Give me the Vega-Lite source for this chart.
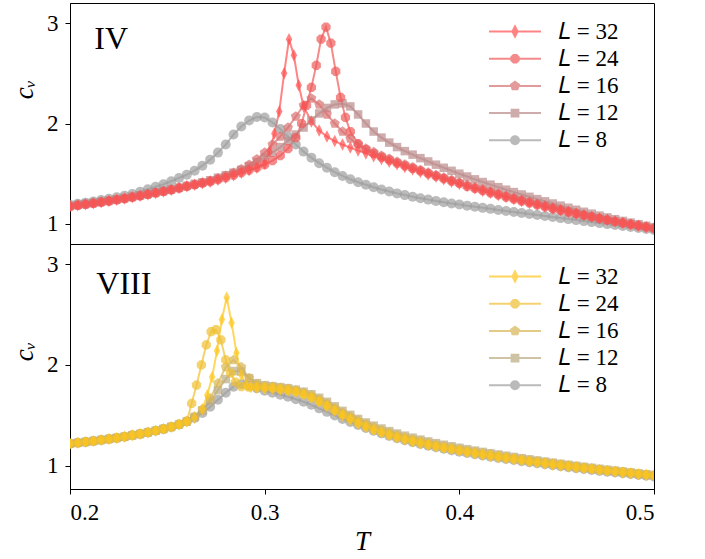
{
"$schema":"https://vega.github.io/schema/vega-lite/v6.json",
"padding":{"left":9,"top":2,"right":5,"bottom":5},
"background":"white",
"spacing":0,
"bounds":"flush",
"config":{
 "font":"Liberation Serif",
 "view":{"stroke":"black","strokeWidth":1},
 "axis":{"grid":false,"domainColor":"black","domainWidth":1,"tickColor":"black","tickSize":5,"labelColor":"black","titleColor":"black","labelFont":"Liberation Serif","titleFont":"Liberation Serif","labelFontSize":23,"titleFontSize":27,"titleFontWeight":"normal","labelPadding":7}
},
"datasets":{
"top":[
{"L":"8","T":0.2,"c":1.19},{"L":"8","T":0.204,"c":1.2},{"L":"8","T":0.208,"c":1.212},{"L":"8","T":0.212,"c":1.224},{"L":"8","T":0.216,"c":1.237},{"L":"8","T":0.22,"c":1.25},{"L":"8","T":0.224,"c":1.265},{"L":"8","T":0.228,"c":1.28},{"L":"8","T":0.232,"c":1.297},{"L":"8","T":0.236,"c":1.32},{"L":"8","T":0.24,"c":1.345},{"L":"8","T":0.244,"c":1.37},{"L":"8","T":0.248,"c":1.395},{"L":"8","T":0.252,"c":1.425},{"L":"8","T":0.256,"c":1.457},{"L":"8","T":0.26,"c":1.49},{"L":"8","T":0.264,"c":1.53},{"L":"8","T":0.268,"c":1.58},{"L":"8","T":0.272,"c":1.64},{"L":"8","T":0.276,"c":1.71},{"L":"8","T":0.28,"c":1.79},{"L":"8","T":0.284,"c":1.89},{"L":"8","T":0.288,"c":1.97},{"L":"8","T":0.292,"c":2.03},{"L":"8","T":0.296,"c":2.065},{"L":"8","T":0.3,"c":2.06},{"L":"8","T":0.304,"c":2.01},{"L":"8","T":0.308,"c":1.945},{"L":"8","T":0.312,"c":1.87},{"L":"8","T":0.316,"c":1.79},{"L":"8","T":0.32,"c":1.72},{"L":"8","T":0.324,"c":1.66},{"L":"8","T":0.328,"c":1.605},{"L":"8","T":0.332,"c":1.56},{"L":"8","T":0.336,"c":1.515},{"L":"8","T":0.34,"c":1.478},{"L":"8","T":0.344,"c":1.445},{"L":"8","T":0.348,"c":1.415},{"L":"8","T":0.352,"c":1.39},{"L":"8","T":0.356,"c":1.365},{"L":"8","T":0.36,"c":1.343},{"L":"8","T":0.364,"c":1.323},{"L":"8","T":0.368,"c":1.304},{"L":"8","T":0.372,"c":1.287},{"L":"8","T":0.376,"c":1.271},{"L":"8","T":0.38,"c":1.256},{"L":"8","T":0.384,"c":1.242},{"L":"8","T":0.388,"c":1.229},{"L":"8","T":0.392,"c":1.216},{"L":"8","T":0.396,"c":1.204},{"L":"8","T":0.4,"c":1.193},{"L":"8","T":0.404,"c":1.182},{"L":"8","T":0.408,"c":1.171},{"L":"8","T":0.412,"c":1.16},{"L":"8","T":0.416,"c":1.15},{"L":"8","T":0.42,"c":1.139},{"L":"8","T":0.424,"c":1.129},{"L":"8","T":0.428,"c":1.118},{"L":"8","T":0.432,"c":1.108},{"L":"8","T":0.436,"c":1.098},{"L":"8","T":0.44,"c":1.088},{"L":"8","T":0.444,"c":1.078},{"L":"8","T":0.448,"c":1.068},{"L":"8","T":0.452,"c":1.058},{"L":"8","T":0.456,"c":1.048},{"L":"8","T":0.46,"c":1.038},{"L":"8","T":0.464,"c":1.028},{"L":"8","T":0.468,"c":1.018},{"L":"8","T":0.472,"c":1.008},{"L":"8","T":0.476,"c":0.998},{"L":"8","T":0.48,"c":0.989},{"L":"8","T":0.484,"c":0.979},{"L":"8","T":0.488,"c":0.969},{"L":"8","T":0.492,"c":0.96},{"L":"8","T":0.496,"c":0.95},{"L":"8","T":0.5,"c":0.94},
{"L":"12","T":0.2,"c":1.18},{"L":"12","T":0.204,"c":1.19},{"L":"12","T":0.208,"c":1.2},{"L":"12","T":0.212,"c":1.21},{"L":"12","T":0.216,"c":1.221},{"L":"12","T":0.22,"c":1.233},{"L":"12","T":0.224,"c":1.245},{"L":"12","T":0.228,"c":1.258},{"L":"12","T":0.232,"c":1.271},{"L":"12","T":0.236,"c":1.285},{"L":"12","T":0.24,"c":1.299},{"L":"12","T":0.244,"c":1.314},{"L":"12","T":0.248,"c":1.329},{"L":"12","T":0.252,"c":1.345},{"L":"12","T":0.256,"c":1.362},{"L":"12","T":0.26,"c":1.38},{"L":"12","T":0.264,"c":1.4},{"L":"12","T":0.268,"c":1.415},{"L":"12","T":0.272,"c":1.435},{"L":"12","T":0.276,"c":1.46},{"L":"12","T":0.28,"c":1.485},{"L":"12","T":0.284,"c":1.51},{"L":"12","T":0.288,"c":1.54},{"L":"12","T":0.292,"c":1.575},{"L":"12","T":0.296,"c":1.615},{"L":"12","T":0.3,"c":1.66},{"L":"12","T":0.304,"c":1.71},{"L":"12","T":0.308,"c":1.765},{"L":"12","T":0.312,"c":1.825},{"L":"12","T":0.316,"c":1.89},{"L":"12","T":0.32,"c":1.96},{"L":"12","T":0.324,"c":2.03},{"L":"12","T":0.328,"c":2.1},{"L":"12","T":0.332,"c":2.155},{"L":"12","T":0.336,"c":2.19},{"L":"12","T":0.34,"c":2.2},{"L":"12","T":0.344,"c":2.17},{"L":"12","T":0.348,"c":2.09},{"L":"12","T":0.352,"c":2.0},{"L":"12","T":0.356,"c":1.92},{"L":"12","T":0.36,"c":1.86},{"L":"12","T":0.364,"c":1.81},{"L":"12","T":0.368,"c":1.765},{"L":"12","T":0.372,"c":1.725},{"L":"12","T":0.376,"c":1.69},{"L":"12","T":0.38,"c":1.655},{"L":"12","T":0.384,"c":1.622},{"L":"12","T":0.388,"c":1.59},{"L":"12","T":0.392,"c":1.559},{"L":"12","T":0.396,"c":1.529},{"L":"12","T":0.4,"c":1.5},{"L":"12","T":0.404,"c":1.472},{"L":"12","T":0.408,"c":1.444},{"L":"12","T":0.412,"c":1.417},{"L":"12","T":0.416,"c":1.391},{"L":"12","T":0.42,"c":1.366},{"L":"12","T":0.424,"c":1.341},{"L":"12","T":0.428,"c":1.317},{"L":"12","T":0.432,"c":1.293},{"L":"12","T":0.436,"c":1.27},{"L":"12","T":0.44,"c":1.247},{"L":"12","T":0.444,"c":1.225},{"L":"12","T":0.448,"c":1.203},{"L":"12","T":0.452,"c":1.182},{"L":"12","T":0.456,"c":1.161},{"L":"12","T":0.46,"c":1.141},{"L":"12","T":0.464,"c":1.121},{"L":"12","T":0.468,"c":1.102},{"L":"12","T":0.472,"c":1.083},{"L":"12","T":0.476,"c":1.065},{"L":"12","T":0.48,"c":1.047},{"L":"12","T":0.484,"c":1.03},{"L":"12","T":0.488,"c":1.013},{"L":"12","T":0.492,"c":0.997},{"L":"12","T":0.496,"c":0.981},{"L":"12","T":0.5,"c":0.966},
{"L":"16","T":0.2,"c":1.175},{"L":"16","T":0.204,"c":1.185},{"L":"16","T":0.208,"c":1.195},{"L":"16","T":0.212,"c":1.205},{"L":"16","T":0.216,"c":1.216},{"L":"16","T":0.22,"c":1.228},{"L":"16","T":0.224,"c":1.24},{"L":"16","T":0.228,"c":1.253},{"L":"16","T":0.232,"c":1.266},{"L":"16","T":0.236,"c":1.28},{"L":"16","T":0.24,"c":1.294},{"L":"16","T":0.244,"c":1.309},{"L":"16","T":0.248,"c":1.324},{"L":"16","T":0.252,"c":1.34},{"L":"16","T":0.256,"c":1.357},{"L":"16","T":0.26,"c":1.375},{"L":"16","T":0.264,"c":1.39},{"L":"16","T":0.268,"c":1.41},{"L":"16","T":0.272,"c":1.43},{"L":"16","T":0.276,"c":1.455},{"L":"16","T":0.28,"c":1.48},{"L":"16","T":0.284,"c":1.51},{"L":"16","T":0.288,"c":1.545},{"L":"16","T":0.292,"c":1.59},{"L":"16","T":0.296,"c":1.645},{"L":"16","T":0.3,"c":1.71},{"L":"16","T":0.304,"c":1.79},{"L":"16","T":0.308,"c":1.87},{"L":"16","T":0.312,"c":1.96},{"L":"16","T":0.316,"c":2.07},{"L":"16","T":0.32,"c":2.18},{"L":"16","T":0.324,"c":2.25},{"L":"16","T":0.328,"c":2.19},{"L":"16","T":0.332,"c":2.09},{"L":"16","T":0.336,"c":2.0},{"L":"16","T":0.34,"c":1.92},{"L":"16","T":0.344,"c":1.85},{"L":"16","T":0.348,"c":1.79},{"L":"16","T":0.352,"c":1.75},{"L":"16","T":0.356,"c":1.715},{"L":"16","T":0.36,"c":1.68},{"L":"16","T":0.364,"c":1.65},{"L":"16","T":0.368,"c":1.62},{"L":"16","T":0.372,"c":1.592},{"L":"16","T":0.376,"c":1.565},{"L":"16","T":0.38,"c":1.538},{"L":"16","T":0.384,"c":1.512},{"L":"16","T":0.388,"c":1.487},{"L":"16","T":0.392,"c":1.462},{"L":"16","T":0.396,"c":1.437},{"L":"16","T":0.4,"c":1.413},{"L":"16","T":0.404,"c":1.389},{"L":"16","T":0.408,"c":1.366},{"L":"16","T":0.412,"c":1.344},{"L":"16","T":0.416,"c":1.322},{"L":"16","T":0.42,"c":1.3},{"L":"16","T":0.424,"c":1.279},{"L":"16","T":0.428,"c":1.258},{"L":"16","T":0.432,"c":1.238},{"L":"16","T":0.436,"c":1.218},{"L":"16","T":0.44,"c":1.199},{"L":"16","T":0.444,"c":1.18},{"L":"16","T":0.448,"c":1.161},{"L":"16","T":0.452,"c":1.143},{"L":"16","T":0.456,"c":1.125},{"L":"16","T":0.46,"c":1.108},{"L":"16","T":0.464,"c":1.091},{"L":"16","T":0.468,"c":1.075},{"L":"16","T":0.472,"c":1.059},{"L":"16","T":0.476,"c":1.043},{"L":"16","T":0.48,"c":1.028},{"L":"16","T":0.484,"c":1.014},{"L":"16","T":0.488,"c":1.0},{"L":"16","T":0.492,"c":0.986},{"L":"16","T":0.496,"c":0.972},{"L":"16","T":0.5,"c":0.959},
{"L":"24","T":0.2,"c":1.175},{"L":"24","T":0.204,"c":1.185},{"L":"24","T":0.208,"c":1.195},{"L":"24","T":0.212,"c":1.205},{"L":"24","T":0.216,"c":1.216},{"L":"24","T":0.22,"c":1.228},{"L":"24","T":0.224,"c":1.24},{"L":"24","T":0.228,"c":1.253},{"L":"24","T":0.232,"c":1.266},{"L":"24","T":0.236,"c":1.28},{"L":"24","T":0.24,"c":1.294},{"L":"24","T":0.244,"c":1.309},{"L":"24","T":0.248,"c":1.324},{"L":"24","T":0.252,"c":1.34},{"L":"24","T":0.256,"c":1.357},{"L":"24","T":0.26,"c":1.375},{"L":"24","T":0.264,"c":1.39},{"L":"24","T":0.268,"c":1.405},{"L":"24","T":0.272,"c":1.42},{"L":"24","T":0.276,"c":1.44},{"L":"24","T":0.28,"c":1.46},{"L":"24","T":0.284,"c":1.485},{"L":"24","T":0.288,"c":1.51},{"L":"24","T":0.292,"c":1.535},{"L":"24","T":0.296,"c":1.56},{"L":"24","T":0.3,"c":1.59},{"L":"24","T":0.304,"c":1.63},{"L":"24","T":0.308,"c":1.68},{"L":"24","T":0.312,"c":1.75},{"L":"24","T":0.316,"c":1.86},{"L":"24","T":0.319,"c":2.0},{"L":"24","T":0.3215,"c":2.18},{"L":"24","T":0.324,"c":2.36},{"L":"24","T":0.3265,"c":2.58},{"L":"24","T":0.329,"c":2.84},{"L":"24","T":0.3315,"c":2.96},{"L":"24","T":0.334,"c":2.8},{"L":"24","T":0.3365,"c":2.52},{"L":"24","T":0.339,"c":2.26},{"L":"24","T":0.3415,"c":2.06},{"L":"24","T":0.344,"c":1.92},{"L":"24","T":0.348,"c":1.8},{"L":"24","T":0.352,"c":1.74},{"L":"24","T":0.356,"c":1.7},{"L":"24","T":0.36,"c":1.665},{"L":"24","T":0.364,"c":1.635},{"L":"24","T":0.368,"c":1.605},{"L":"24","T":0.372,"c":1.578},{"L":"24","T":0.376,"c":1.552},{"L":"24","T":0.38,"c":1.527},{"L":"24","T":0.384,"c":1.501},{"L":"24","T":0.388,"c":1.476},{"L":"24","T":0.392,"c":1.451},{"L":"24","T":0.396,"c":1.427},{"L":"24","T":0.4,"c":1.403},{"L":"24","T":0.404,"c":1.375},{"L":"24","T":0.408,"c":1.353},{"L":"24","T":0.412,"c":1.331},{"L":"24","T":0.416,"c":1.31},{"L":"24","T":0.42,"c":1.289},{"L":"24","T":0.424,"c":1.268},{"L":"24","T":0.428,"c":1.248},{"L":"24","T":0.432,"c":1.228},{"L":"24","T":0.436,"c":1.209},{"L":"24","T":0.44,"c":1.19},{"L":"24","T":0.444,"c":1.171},{"L":"24","T":0.448,"c":1.153},{"L":"24","T":0.452,"c":1.135},{"L":"24","T":0.456,"c":1.118},{"L":"24","T":0.46,"c":1.101},{"L":"24","T":0.464,"c":1.085},{"L":"24","T":0.468,"c":1.069},{"L":"24","T":0.472,"c":1.053},{"L":"24","T":0.476,"c":1.038},{"L":"24","T":0.48,"c":1.023},{"L":"24","T":0.484,"c":1.009},{"L":"24","T":0.488,"c":0.995},{"L":"24","T":0.492,"c":0.981},{"L":"24","T":0.496,"c":0.968},{"L":"24","T":0.5,"c":0.955},
{"L":"32","T":0.2,"c":1.175},{"L":"32","T":0.204,"c":1.185},{"L":"32","T":0.208,"c":1.195},{"L":"32","T":0.212,"c":1.205},{"L":"32","T":0.216,"c":1.216},{"L":"32","T":0.22,"c":1.228},{"L":"32","T":0.224,"c":1.24},{"L":"32","T":0.228,"c":1.253},{"L":"32","T":0.232,"c":1.266},{"L":"32","T":0.236,"c":1.28},{"L":"32","T":0.24,"c":1.294},{"L":"32","T":0.244,"c":1.309},{"L":"32","T":0.248,"c":1.324},{"L":"32","T":0.252,"c":1.34},{"L":"32","T":0.256,"c":1.357},{"L":"32","T":0.26,"c":1.375},{"L":"32","T":0.264,"c":1.39},{"L":"32","T":0.268,"c":1.405},{"L":"32","T":0.272,"c":1.42},{"L":"32","T":0.276,"c":1.44},{"L":"32","T":0.28,"c":1.46},{"L":"32","T":0.284,"c":1.485},{"L":"32","T":0.288,"c":1.51},{"L":"32","T":0.292,"c":1.535},{"L":"32","T":0.296,"c":1.56},{"L":"32","T":0.3,"c":1.6},{"L":"32","T":0.3025,"c":1.72},{"L":"32","T":0.305,"c":1.9},{"L":"32","T":0.3075,"c":2.12},{"L":"32","T":0.31,"c":2.5},{"L":"32","T":0.3125,"c":2.84},{"L":"32","T":0.315,"c":2.68},{"L":"32","T":0.3175,"c":2.38},{"L":"32","T":0.32,"c":2.17},{"L":"32","T":0.324,"c":2.02},{"L":"32","T":0.328,"c":1.93},{"L":"32","T":0.332,"c":1.87},{"L":"32","T":0.336,"c":1.825},{"L":"32","T":0.34,"c":1.79},{"L":"32","T":0.344,"c":1.76},{"L":"32","T":0.348,"c":1.73},{"L":"32","T":0.352,"c":1.702},{"L":"32","T":0.356,"c":1.674},{"L":"32","T":0.36,"c":1.647},{"L":"32","T":0.364,"c":1.62},{"L":"32","T":0.368,"c":1.594},{"L":"32","T":0.372,"c":1.568},{"L":"32","T":0.376,"c":1.543},{"L":"32","T":0.38,"c":1.518},{"L":"32","T":0.384,"c":1.493},{"L":"32","T":0.388,"c":1.469},{"L":"32","T":0.392,"c":1.445},{"L":"32","T":0.396,"c":1.421},{"L":"32","T":0.4,"c":1.398},{"L":"32","T":0.404,"c":1.375},{"L":"32","T":0.408,"c":1.353},{"L":"32","T":0.412,"c":1.331},{"L":"32","T":0.416,"c":1.31},{"L":"32","T":0.42,"c":1.289},{"L":"32","T":0.424,"c":1.268},{"L":"32","T":0.428,"c":1.248},{"L":"32","T":0.432,"c":1.228},{"L":"32","T":0.436,"c":1.209},{"L":"32","T":0.44,"c":1.19},{"L":"32","T":0.444,"c":1.171},{"L":"32","T":0.448,"c":1.153},{"L":"32","T":0.452,"c":1.135},{"L":"32","T":0.456,"c":1.118},{"L":"32","T":0.46,"c":1.101},{"L":"32","T":0.464,"c":1.085},{"L":"32","T":0.468,"c":1.069},{"L":"32","T":0.472,"c":1.053},{"L":"32","T":0.476,"c":1.038},{"L":"32","T":0.48,"c":1.023},{"L":"32","T":0.484,"c":1.009},{"L":"32","T":0.488,"c":0.995},{"L":"32","T":0.492,"c":0.981},{"L":"32","T":0.496,"c":0.968},{"L":"32","T":0.5,"c":0.955}
],
"bot":[
{"L":"8","T":0.2,"c":1.22},{"L":"8","T":0.204,"c":1.228},{"L":"8","T":0.208,"c":1.237},{"L":"8","T":0.212,"c":1.246},{"L":"8","T":0.216,"c":1.256},{"L":"8","T":0.22,"c":1.266},{"L":"8","T":0.224,"c":1.277},{"L":"8","T":0.228,"c":1.289},{"L":"8","T":0.232,"c":1.302},{"L":"8","T":0.236,"c":1.316},{"L":"8","T":0.24,"c":1.331},{"L":"8","T":0.244,"c":1.348},{"L":"8","T":0.248,"c":1.366},{"L":"8","T":0.252,"c":1.386},{"L":"8","T":0.256,"c":1.41},{"L":"8","T":0.26,"c":1.44},{"L":"8","T":0.264,"c":1.475},{"L":"8","T":0.268,"c":1.525},{"L":"8","T":0.272,"c":1.585},{"L":"8","T":0.276,"c":1.655},{"L":"8","T":0.28,"c":1.725},{"L":"8","T":0.284,"c":1.785},{"L":"8","T":0.288,"c":1.81},{"L":"8","T":0.292,"c":1.795},{"L":"8","T":0.296,"c":1.77},{"L":"8","T":0.3,"c":1.745},{"L":"8","T":0.304,"c":1.725},{"L":"8","T":0.308,"c":1.705},{"L":"8","T":0.312,"c":1.685},{"L":"8","T":0.316,"c":1.66},{"L":"8","T":0.32,"c":1.635},{"L":"8","T":0.324,"c":1.605},{"L":"8","T":0.328,"c":1.57},{"L":"8","T":0.332,"c":1.535},{"L":"8","T":0.336,"c":1.5},{"L":"8","T":0.34,"c":1.465},{"L":"8","T":0.344,"c":1.435},{"L":"8","T":0.348,"c":1.405},{"L":"8","T":0.352,"c":1.375},{"L":"8","T":0.356,"c":1.347},{"L":"8","T":0.36,"c":1.322},{"L":"8","T":0.364,"c":1.297},{"L":"8","T":0.368,"c":1.274},{"L":"8","T":0.372,"c":1.254},{"L":"8","T":0.376,"c":1.235},{"L":"8","T":0.38,"c":1.217},{"L":"8","T":0.384,"c":1.2},{"L":"8","T":0.388,"c":1.184},{"L":"8","T":0.392,"c":1.169},{"L":"8","T":0.396,"c":1.155},{"L":"8","T":0.4,"c":1.141},{"L":"8","T":0.404,"c":1.128},{"L":"8","T":0.408,"c":1.115},{"L":"8","T":0.412,"c":1.103},{"L":"8","T":0.416,"c":1.091},{"L":"8","T":0.42,"c":1.079},{"L":"8","T":0.424,"c":1.068},{"L":"8","T":0.428,"c":1.057},{"L":"8","T":0.432,"c":1.046},{"L":"8","T":0.436,"c":1.035},{"L":"8","T":0.44,"c":1.025},{"L":"8","T":0.444,"c":1.015},{"L":"8","T":0.448,"c":1.005},{"L":"8","T":0.452,"c":0.995},{"L":"8","T":0.456,"c":0.986},{"L":"8","T":0.46,"c":0.977},{"L":"8","T":0.464,"c":0.968},{"L":"8","T":0.468,"c":0.959},{"L":"8","T":0.472,"c":0.95},{"L":"8","T":0.476,"c":0.942},{"L":"8","T":0.48,"c":0.934},{"L":"8","T":0.484,"c":0.926},{"L":"8","T":0.488,"c":0.918},{"L":"8","T":0.492,"c":0.91},{"L":"8","T":0.496,"c":0.902},{"L":"8","T":0.5,"c":0.894},
{"L":"12","T":0.2,"c":1.22},{"L":"12","T":0.204,"c":1.228},{"L":"12","T":0.208,"c":1.237},{"L":"12","T":0.212,"c":1.246},{"L":"12","T":0.216,"c":1.256},{"L":"12","T":0.22,"c":1.266},{"L":"12","T":0.224,"c":1.277},{"L":"12","T":0.228,"c":1.289},{"L":"12","T":0.232,"c":1.302},{"L":"12","T":0.236,"c":1.316},{"L":"12","T":0.24,"c":1.331},{"L":"12","T":0.244,"c":1.348},{"L":"12","T":0.248,"c":1.366},{"L":"12","T":0.252,"c":1.386},{"L":"12","T":0.256,"c":1.41},{"L":"12","T":0.26,"c":1.44},{"L":"12","T":0.264,"c":1.485},{"L":"12","T":0.268,"c":1.55},{"L":"12","T":0.272,"c":1.64},{"L":"12","T":0.276,"c":1.75},{"L":"12","T":0.28,"c":1.86},{"L":"12","T":0.284,"c":1.94},{"L":"12","T":0.288,"c":1.935},{"L":"12","T":0.292,"c":1.87},{"L":"12","T":0.296,"c":1.82},{"L":"12","T":0.3,"c":1.8},{"L":"12","T":0.304,"c":1.79},{"L":"12","T":0.308,"c":1.78},{"L":"12","T":0.312,"c":1.77},{"L":"12","T":0.316,"c":1.755},{"L":"12","T":0.32,"c":1.735},{"L":"12","T":0.324,"c":1.71},{"L":"12","T":0.328,"c":1.675},{"L":"12","T":0.332,"c":1.635},{"L":"12","T":0.336,"c":1.59},{"L":"12","T":0.34,"c":1.545},{"L":"12","T":0.344,"c":1.505},{"L":"12","T":0.348,"c":1.465},{"L":"12","T":0.352,"c":1.43},{"L":"12","T":0.356,"c":1.398},{"L":"12","T":0.36,"c":1.37},{"L":"12","T":0.364,"c":1.344},{"L":"12","T":0.368,"c":1.32},{"L":"12","T":0.372,"c":1.299},{"L":"12","T":0.376,"c":1.279},{"L":"12","T":0.38,"c":1.26},{"L":"12","T":0.384,"c":1.242},{"L":"12","T":0.388,"c":1.225},{"L":"12","T":0.392,"c":1.209},{"L":"12","T":0.396,"c":1.194},{"L":"12","T":0.4,"c":1.179},{"L":"12","T":0.404,"c":1.165},{"L":"12","T":0.408,"c":1.151},{"L":"12","T":0.412,"c":1.138},{"L":"12","T":0.416,"c":1.125},{"L":"12","T":0.42,"c":1.112},{"L":"12","T":0.424,"c":1.1},{"L":"12","T":0.428,"c":1.088},{"L":"12","T":0.432,"c":1.076},{"L":"12","T":0.436,"c":1.064},{"L":"12","T":0.44,"c":1.053},{"L":"12","T":0.444,"c":1.042},{"L":"12","T":0.448,"c":1.031},{"L":"12","T":0.452,"c":1.02},{"L":"12","T":0.456,"c":1.01},{"L":"12","T":0.46,"c":1.0},{"L":"12","T":0.464,"c":0.99},{"L":"12","T":0.468,"c":0.98},{"L":"12","T":0.472,"c":0.97},{"L":"12","T":0.476,"c":0.961},{"L":"12","T":0.48,"c":0.952},{"L":"12","T":0.484,"c":0.943},{"L":"12","T":0.488,"c":0.934},{"L":"12","T":0.492,"c":0.925},{"L":"12","T":0.496,"c":0.917},{"L":"12","T":0.5,"c":0.909},
{"L":"16","T":0.2,"c":1.22},{"L":"16","T":0.204,"c":1.228},{"L":"16","T":0.208,"c":1.237},{"L":"16","T":0.212,"c":1.246},{"L":"16","T":0.216,"c":1.256},{"L":"16","T":0.22,"c":1.266},{"L":"16","T":0.224,"c":1.277},{"L":"16","T":0.228,"c":1.289},{"L":"16","T":0.232,"c":1.302},{"L":"16","T":0.236,"c":1.316},{"L":"16","T":0.24,"c":1.331},{"L":"16","T":0.244,"c":1.348},{"L":"16","T":0.248,"c":1.366},{"L":"16","T":0.252,"c":1.386},{"L":"16","T":0.256,"c":1.41},{"L":"16","T":0.26,"c":1.44},{"L":"16","T":0.264,"c":1.49},{"L":"16","T":0.268,"c":1.56},{"L":"16","T":0.272,"c":1.67},{"L":"16","T":0.276,"c":1.82},{"L":"16","T":0.28,"c":1.98},{"L":"16","T":0.284,"c":2.05},{"L":"16","T":0.288,"c":1.98},{"L":"16","T":0.292,"c":1.87},{"L":"16","T":0.296,"c":1.81},{"L":"16","T":0.3,"c":1.79},{"L":"16","T":0.304,"c":1.785},{"L":"16","T":0.308,"c":1.775},{"L":"16","T":0.312,"c":1.765},{"L":"16","T":0.316,"c":1.75},{"L":"16","T":0.32,"c":1.725},{"L":"16","T":0.324,"c":1.695},{"L":"16","T":0.328,"c":1.658},{"L":"16","T":0.332,"c":1.616},{"L":"16","T":0.336,"c":1.572},{"L":"16","T":0.34,"c":1.528},{"L":"16","T":0.344,"c":1.488},{"L":"16","T":0.348,"c":1.449},{"L":"16","T":0.352,"c":1.414},{"L":"16","T":0.356,"c":1.383},{"L":"16","T":0.36,"c":1.353},{"L":"16","T":0.364,"c":1.327},{"L":"16","T":0.368,"c":1.303},{"L":"16","T":0.372,"c":1.282},{"L":"16","T":0.376,"c":1.262},{"L":"16","T":0.38,"c":1.243},{"L":"16","T":0.384,"c":1.226},{"L":"16","T":0.388,"c":1.209},{"L":"16","T":0.392,"c":1.193},{"L":"16","T":0.396,"c":1.178},{"L":"16","T":0.4,"c":1.164},{"L":"16","T":0.404,"c":1.15},{"L":"16","T":0.408,"c":1.137},{"L":"16","T":0.412,"c":1.124},{"L":"16","T":0.416,"c":1.112},{"L":"16","T":0.42,"c":1.1},{"L":"16","T":0.424,"c":1.088},{"L":"16","T":0.428,"c":1.077},{"L":"16","T":0.432,"c":1.066},{"L":"16","T":0.436,"c":1.055},{"L":"16","T":0.44,"c":1.044},{"L":"16","T":0.444,"c":1.034},{"L":"16","T":0.448,"c":1.023},{"L":"16","T":0.452,"c":1.013},{"L":"16","T":0.456,"c":1.003},{"L":"16","T":0.46,"c":0.994},{"L":"16","T":0.464,"c":0.984},{"L":"16","T":0.468,"c":0.975},{"L":"16","T":0.472,"c":0.966},{"L":"16","T":0.476,"c":0.957},{"L":"16","T":0.48,"c":0.948},{"L":"16","T":0.484,"c":0.94},{"L":"16","T":0.488,"c":0.931},{"L":"16","T":0.492,"c":0.922},{"L":"16","T":0.496,"c":0.914},{"L":"16","T":0.5,"c":0.905},
{"L":"24","T":0.2,"c":1.22},{"L":"24","T":0.204,"c":1.228},{"L":"24","T":0.208,"c":1.237},{"L":"24","T":0.212,"c":1.246},{"L":"24","T":0.216,"c":1.256},{"L":"24","T":0.22,"c":1.266},{"L":"24","T":0.224,"c":1.277},{"L":"24","T":0.228,"c":1.289},{"L":"24","T":0.232,"c":1.302},{"L":"24","T":0.236,"c":1.316},{"L":"24","T":0.24,"c":1.331},{"L":"24","T":0.244,"c":1.348},{"L":"24","T":0.248,"c":1.366},{"L":"24","T":0.252,"c":1.386},{"L":"24","T":0.256,"c":1.41},{"L":"24","T":0.26,"c":1.44},{"L":"24","T":0.2625,"c":1.62},{"L":"24","T":0.265,"c":1.8},{"L":"24","T":0.2675,"c":2.0},{"L":"24","T":0.27,"c":2.2},{"L":"24","T":0.2725,"c":2.33},{"L":"24","T":0.275,"c":2.35},{"L":"24","T":0.2775,"c":2.25},{"L":"24","T":0.28,"c":2.05},{"L":"24","T":0.2825,"c":1.92},{"L":"24","T":0.285,"c":1.83},{"L":"24","T":0.288,"c":1.785},{"L":"24","T":0.292,"c":1.78},{"L":"24","T":0.296,"c":1.78},{"L":"24","T":0.3,"c":1.775},{"L":"24","T":0.304,"c":1.77},{"L":"24","T":0.308,"c":1.76},{"L":"24","T":0.312,"c":1.75},{"L":"24","T":0.316,"c":1.735},{"L":"24","T":0.32,"c":1.71},{"L":"24","T":0.324,"c":1.68},{"L":"24","T":0.328,"c":1.64},{"L":"24","T":0.332,"c":1.595},{"L":"24","T":0.336,"c":1.55},{"L":"24","T":0.34,"c":1.505},{"L":"24","T":0.344,"c":1.465},{"L":"24","T":0.348,"c":1.425},{"L":"24","T":0.352,"c":1.39},{"L":"24","T":0.356,"c":1.36},{"L":"24","T":0.36,"c":1.333},{"L":"24","T":0.364,"c":1.308},{"L":"24","T":0.368,"c":1.285},{"L":"24","T":0.372,"c":1.265},{"L":"24","T":0.376,"c":1.246},{"L":"24","T":0.38,"c":1.228},{"L":"24","T":0.384,"c":1.211},{"L":"24","T":0.388,"c":1.195},{"L":"24","T":0.392,"c":1.18},{"L":"24","T":0.396,"c":1.166},{"L":"24","T":0.4,"c":1.152},{"L":"24","T":0.404,"c":1.139},{"L":"24","T":0.408,"c":1.126},{"L":"24","T":0.412,"c":1.114},{"L":"24","T":0.416,"c":1.102},{"L":"24","T":0.42,"c":1.09},{"L":"24","T":0.424,"c":1.079},{"L":"24","T":0.428,"c":1.068},{"L":"24","T":0.432,"c":1.057},{"L":"24","T":0.436,"c":1.046},{"L":"24","T":0.44,"c":1.036},{"L":"24","T":0.444,"c":1.026},{"L":"24","T":0.448,"c":1.016},{"L":"24","T":0.452,"c":1.006},{"L":"24","T":0.456,"c":0.997},{"L":"24","T":0.46,"c":0.988},{"L":"24","T":0.464,"c":0.979},{"L":"24","T":0.468,"c":0.97},{"L":"24","T":0.472,"c":0.961},{"L":"24","T":0.476,"c":0.953},{"L":"24","T":0.48,"c":0.945},{"L":"24","T":0.484,"c":0.937},{"L":"24","T":0.488,"c":0.929},{"L":"24","T":0.492,"c":0.921},{"L":"24","T":0.496,"c":0.913},{"L":"24","T":0.5,"c":0.905},
{"L":"32","T":0.2,"c":1.22},{"L":"32","T":0.204,"c":1.228},{"L":"32","T":0.208,"c":1.237},{"L":"32","T":0.212,"c":1.246},{"L":"32","T":0.216,"c":1.256},{"L":"32","T":0.22,"c":1.266},{"L":"32","T":0.224,"c":1.277},{"L":"32","T":0.228,"c":1.289},{"L":"32","T":0.232,"c":1.302},{"L":"32","T":0.236,"c":1.316},{"L":"32","T":0.24,"c":1.331},{"L":"32","T":0.244,"c":1.348},{"L":"32","T":0.248,"c":1.366},{"L":"32","T":0.252,"c":1.386},{"L":"32","T":0.256,"c":1.41},{"L":"32","T":0.26,"c":1.44},{"L":"32","T":0.264,"c":1.475},{"L":"32","T":0.268,"c":1.56},{"L":"32","T":0.2705,"c":1.7},{"L":"32","T":0.273,"c":1.88},{"L":"32","T":0.2755,"c":2.14},{"L":"32","T":0.278,"c":2.45},{"L":"32","T":0.2805,"c":2.67},{"L":"32","T":0.283,"c":2.42},{"L":"32","T":0.2855,"c":2.12},{"L":"32","T":0.288,"c":1.9},{"L":"32","T":0.2905,"c":1.8},{"L":"32","T":0.293,"c":1.78},{"L":"32","T":0.296,"c":1.775},{"L":"32","T":0.3,"c":1.77},{"L":"32","T":0.304,"c":1.765},{"L":"32","T":0.308,"c":1.755},{"L":"32","T":0.312,"c":1.745},{"L":"32","T":0.316,"c":1.73},{"L":"32","T":0.32,"c":1.705},{"L":"32","T":0.324,"c":1.675},{"L":"32","T":0.328,"c":1.635},{"L":"32","T":0.332,"c":1.59},{"L":"32","T":0.336,"c":1.545},{"L":"32","T":0.34,"c":1.5},{"L":"32","T":0.344,"c":1.46},{"L":"32","T":0.348,"c":1.42},{"L":"32","T":0.352,"c":1.385},{"L":"32","T":0.356,"c":1.355},{"L":"32","T":0.36,"c":1.328},{"L":"32","T":0.364,"c":1.303},{"L":"32","T":0.368,"c":1.28},{"L":"32","T":0.372,"c":1.26},{"L":"32","T":0.376,"c":1.241},{"L":"32","T":0.38,"c":1.223},{"L":"32","T":0.384,"c":1.206},{"L":"32","T":0.388,"c":1.19},{"L":"32","T":0.392,"c":1.175},{"L":"32","T":0.396,"c":1.161},{"L":"32","T":0.4,"c":1.147},{"L":"32","T":0.404,"c":1.134},{"L":"32","T":0.408,"c":1.121},{"L":"32","T":0.412,"c":1.109},{"L":"32","T":0.416,"c":1.097},{"L":"32","T":0.42,"c":1.085},{"L":"32","T":0.424,"c":1.074},{"L":"32","T":0.428,"c":1.063},{"L":"32","T":0.432,"c":1.052},{"L":"32","T":0.436,"c":1.041},{"L":"32","T":0.44,"c":1.031},{"L":"32","T":0.444,"c":1.021},{"L":"32","T":0.448,"c":1.011},{"L":"32","T":0.452,"c":1.001},{"L":"32","T":0.456,"c":0.992},{"L":"32","T":0.46,"c":0.983},{"L":"32","T":0.464,"c":0.974},{"L":"32","T":0.468,"c":0.965},{"L":"32","T":0.472,"c":0.956},{"L":"32","T":0.476,"c":0.948},{"L":"32","T":0.48,"c":0.94},{"L":"32","T":0.484,"c":0.932},{"L":"32","T":0.488,"c":0.924},{"L":"32","T":0.492,"c":0.916},{"L":"32","T":0.496,"c":0.908},{"L":"32","T":0.5,"c":0.9}
]
},
"vconcat":[
{
 "width":584,"height":241,
 "layer":[
  {"data":{"name":"top"},"mark":{"type":"line","strokeWidth":2,"opacity":0.7,"clip":true},
   "encoding":{
    "x":{"field":"T","type":"quantitative","scale":{"domain":[0.2,0.5],"nice":false,"zero":false},"axis":null},
    "y":{"field":"c","type":"quantitative","scale":{"domain":[0.8,3.2],"nice":false,"zero":false},"axis":{"values":[1,2,3],"labelFont":"Liberation Serif","titleFont":"Liberation Serif","title":"cᵥ","titleFontStyle":"italic","titleX":-46,"titleY":86,"titleAngle":-90,"titleBaseline":"middle","titleAlign":"center"}},
    "color":{"field":"L","type":"nominal","scale":{"domain":["32","24","16","12","8"],"range":["#ff5050","#f05a5a","#d87070","#bb8a8a","#9e9e9e"]},"legend":null}}},
  {"data":{"name":"top"},"mark":{"type":"point","filled":true,"opacity":0.7,"size":100,"clip":true},
   "encoding":{
    "x":{"field":"T","type":"quantitative","scale":{"domain":[0.2,0.5],"nice":false,"zero":false},"axis":null},
    "y":{"field":"c","type":"quantitative","scale":{"domain":[0.8,3.2],"nice":false,"zero":false},"axis":{"values":[1,2,3],"labelFont":"Liberation Serif","titleFont":"Liberation Serif","title":"cᵥ","titleFontStyle":"italic","titleX":-46,"titleY":86,"titleAngle":-90,"titleBaseline":"middle","titleAlign":"center"}},
    "color":{"field":"L","type":"nominal","scale":{"domain":["32","24","16","12","8"],"range":["#ff5050","#f05a5a","#d87070","#bb8a8a","#9e9e9e"]},"legend":null},
    "shape":{"field":"L","type":"nominal","scale":{"domain":["32","24","16","12","8"],"range":["M0,-1.25L0.65,0L0,1.25L-0.65,0Z","M0.383,-0.924L0.924,-0.383L0.924,0.383L0.383,0.924L-0.383,0.924L-0.924,0.383L-0.924,-0.383L-0.383,-0.924Z","M0,-1.05L1,-0.32L0.62,0.85L-0.62,0.85L-1,-0.32Z","M-0.85,-0.85L0.85,-0.85L0.85,0.85L-0.85,0.85Z","circle"]},"legend":null}}},
  {"data":{"values":[{"lab":"IV"}]},
   "mark":{"type":"text","align":"left","baseline":"alphabetic","font":"Liberation Serif","fontSize":32,"color":"black"},
   "encoding":{
    "x":{"datum":0.2125,"type":"quantitative","scale":{"domain":[0.2,0.5],"nice":false,"zero":false},"axis":null},
    "y":{"datum":2.74,"type":"quantitative","scale":{"domain":[0.8,3.2],"nice":false,"zero":false},"axis":{"values":[1,2,3],"labelFont":"Liberation Serif","titleFont":"Liberation Serif","title":"cᵥ","titleFontStyle":"italic","titleX":-46,"titleY":86,"titleAngle":-90,"titleBaseline":"middle","titleAlign":"center"}},
    "text":{"field":"lab"}}},
  {"data":{"name":"top"},"transform":[{"filter":"datum.T < 0"}],
   "mark":{"type":"point","filled":false},
   "encoding":{
    "x":{"field":"T","type":"quantitative","scale":{"domain":[0.2,0.5],"nice":false,"zero":false},"axis":null},
    "y":{"field":"c","type":"quantitative","scale":{"domain":[0.8,3.2],"nice":false,"zero":false},"axis":{"values":[1,2,3],"labelFont":"Liberation Serif","titleFont":"Liberation Serif","title":"cᵥ","titleFontStyle":"italic","titleX":-46,"titleY":86,"titleAngle":-90,"titleBaseline":"middle","titleAlign":"center"}},
    "color":{"field":"L","type":"nominal","scale":{"domain":["32","24","16","12","8"],"range":["#ff5050","#f05a5a","#d87070","#bb8a8a","#9e9e9e"]},
     "legend":{"orient":"none","legendX":433.5,"legendY":17,"title":null,"symbolSize":64,"symbolStrokeWidth":2,"symbolOpacity":0.7,"labelFont":"Liberation Serif","labelFontSize":23,"labelColor":"black","labelOffset":31.5,"rowPadding":3.2,"padding":0,"labelExpr":"'𝐿 = ' + datum.label"}},
    "shape":{"field":"L","type":"nominal","scale":{"domain":["32","24","16","12","8"],"range":["M-6.5,0L6.5,0M0,-1.25L0.65,0L0,1.25L-0.65,0ZM0,-0.69L0.36,0L0,0.69L-0.36,0ZM0,-1.1L0,1.1","M-6.5,0L6.5,0M0.383,-0.924L0.924,-0.383L0.924,0.383L0.383,0.924L-0.383,0.924L-0.924,0.383L-0.924,-0.383L-0.383,-0.924ZM0.211,-0.508L0.508,-0.211L0.508,0.211L0.211,0.508L-0.211,0.508L-0.508,0.211L-0.508,-0.211L-0.211,-0.508ZM0.077,-0.185L0.185,-0.077L0.185,0.077L0.077,0.185L-0.077,0.185L-0.185,0.077L-0.185,-0.077L-0.077,-0.185Z","M-6.5,0L6.5,0M0,-1.05L1,-0.32L0.62,0.85L-0.62,0.85L-1,-0.32ZM0,-0.578L0.55,-0.176L0.341,0.468L-0.341,0.468L-0.55,-0.176ZM0,-0.21L0.2,-0.064L0.124,0.17L-0.124,0.17L-0.2,-0.064Z","M-6.5,0L6.5,0M-0.85,-0.85L0.85,-0.85L0.85,0.85L-0.85,0.85ZM-0.47,-0.47L0.47,-0.47L0.47,0.47L-0.47,0.47ZM-0.12,-0.12L0.12,-0.12L0.12,0.12L-0.12,0.12Z","M-6.5,0L6.5,0M1,0A1,1 0 1,1 -1,0A1,1 0 1,1 1,0ZM0.55,0A0.55,0.55 0 1,1 -0.55,0A0.55,0.55 0 1,1 0.55,0ZM0.2,0A0.2,0.2 0 1,1 -0.2,0A0.2,0.2 0 1,1 0.2,0Z"]},
     "legend":{"orient":"none","legendX":433.5,"legendY":17,"title":null,"symbolSize":64,"symbolStrokeWidth":2,"symbolOpacity":0.7,"labelFont":"Liberation Serif","labelFontSize":23,"labelColor":"black","labelOffset":31.5,"rowPadding":3.2,"padding":0,"labelExpr":"'𝐿 = ' + datum.label"}}}}
 ],
 "resolve":{"scale":{"color":"independent","shape":"independent"}}
},
{
 "width":584,"height":245,
 "layer":[
  {"data":{"name":"bot"},"mark":{"type":"line","strokeWidth":2,"opacity":0.7,"clip":true},
   "encoding":{
    "x":{"field":"T","type":"quantitative","scale":{"domain":[0.2,0.5],"nice":false,"zero":false},"axis":{"values":[0.2,0.3,0.4,0.5],"format":".1f","labelFont":"Liberation Serif","titleFont":"Liberation Serif","title":"T","titleFontStyle":"italic","titlePadding":4}},
    "y":{"field":"c","type":"quantitative","scale":{"domain":[0.77,3.2],"nice":false,"zero":false},"axis":{"values":[1,2,3],"labelFont":"Liberation Serif","titleFont":"Liberation Serif","title":"cᵥ","titleFontStyle":"italic","titleX":-46,"titleY":107,"titleAngle":-90,"titleBaseline":"middle","titleAlign":"center"}},
    "color":{"field":"L","type":"nominal","scale":{"domain":["32","24","16","12","8"],"range":["#ffc61a","#efc032","#d8b655","#baab80","#9e9e9e"]},"legend":null}}},
  {"data":{"name":"bot"},"mark":{"type":"point","filled":true,"opacity":0.7,"size":100,"clip":true},
   "encoding":{
    "x":{"field":"T","type":"quantitative","scale":{"domain":[0.2,0.5],"nice":false,"zero":false},"axis":{"values":[0.2,0.3,0.4,0.5],"format":".1f","labelFont":"Liberation Serif","titleFont":"Liberation Serif","title":"T","titleFontStyle":"italic","titlePadding":4}},
    "y":{"field":"c","type":"quantitative","scale":{"domain":[0.77,3.2],"nice":false,"zero":false},"axis":{"values":[1,2,3],"labelFont":"Liberation Serif","titleFont":"Liberation Serif","title":"cᵥ","titleFontStyle":"italic","titleX":-46,"titleY":107,"titleAngle":-90,"titleBaseline":"middle","titleAlign":"center"}},
    "color":{"field":"L","type":"nominal","scale":{"domain":["32","24","16","12","8"],"range":["#ffc61a","#efc032","#d8b655","#baab80","#9e9e9e"]},"legend":null},
    "shape":{"field":"L","type":"nominal","scale":{"domain":["32","24","16","12","8"],"range":["M0,-1.25L0.65,0L0,1.25L-0.65,0Z","M0.383,-0.924L0.924,-0.383L0.924,0.383L0.383,0.924L-0.383,0.924L-0.924,0.383L-0.924,-0.383L-0.383,-0.924Z","M0,-1.05L1,-0.32L0.62,0.85L-0.62,0.85L-1,-0.32Z","M-0.85,-0.85L0.85,-0.85L0.85,0.85L-0.85,0.85Z","circle"]},"legend":null}}},
  {"data":{"values":[{"lab":"VIII"}]},
   "mark":{"type":"text","align":"left","baseline":"alphabetic","font":"Liberation Serif","fontSize":32,"color":"black"},
   "encoding":{
    "x":{"datum":0.2135,"type":"quantitative","scale":{"domain":[0.2,0.5],"nice":false,"zero":false},"axis":{"values":[0.2,0.3,0.4,0.5],"format":".1f","labelFont":"Liberation Serif","titleFont":"Liberation Serif","title":"T","titleFontStyle":"italic","titlePadding":4}},
    "y":{"datum":2.701,"type":"quantitative","scale":{"domain":[0.77,3.2],"nice":false,"zero":false},"axis":{"values":[1,2,3],"labelFont":"Liberation Serif","titleFont":"Liberation Serif","title":"cᵥ","titleFontStyle":"italic","titleX":-46,"titleY":107,"titleAngle":-90,"titleBaseline":"middle","titleAlign":"center"}},
    "text":{"field":"lab"}}},
  {"data":{"name":"bot"},"transform":[{"filter":"datum.T < 0"}],
   "mark":{"type":"point","filled":false},
   "encoding":{
    "x":{"field":"T","type":"quantitative","scale":{"domain":[0.2,0.5],"nice":false,"zero":false},"axis":{"values":[0.2,0.3,0.4,0.5],"format":".1f","labelFont":"Liberation Serif","titleFont":"Liberation Serif","title":"T","titleFontStyle":"italic","titlePadding":4}},
    "y":{"field":"c","type":"quantitative","scale":{"domain":[0.77,3.2],"nice":false,"zero":false},"axis":{"values":[1,2,3],"labelFont":"Liberation Serif","titleFont":"Liberation Serif","title":"cᵥ","titleFontStyle":"italic","titleX":-46,"titleY":107,"titleAngle":-90,"titleBaseline":"middle","titleAlign":"center"}},
    "color":{"field":"L","type":"nominal","scale":{"domain":["32","24","16","12","8"],"range":["#ffc61a","#efc032","#d8b655","#baab80","#9e9e9e"]},
     "legend":{"orient":"none","legendX":433.5,"legendY":21,"title":null,"symbolSize":64,"symbolStrokeWidth":2,"symbolOpacity":0.7,"labelFont":"Liberation Serif","labelFontSize":23,"labelColor":"black","labelOffset":31.5,"rowPadding":3.2,"padding":0,"labelExpr":"'𝐿 = ' + datum.label"}},
    "shape":{"field":"L","type":"nominal","scale":{"domain":["32","24","16","12","8"],"range":["M-6.5,0L6.5,0M0,-1.25L0.65,0L0,1.25L-0.65,0ZM0,-0.69L0.36,0L0,0.69L-0.36,0ZM0,-1.1L0,1.1","M-6.5,0L6.5,0M0.383,-0.924L0.924,-0.383L0.924,0.383L0.383,0.924L-0.383,0.924L-0.924,0.383L-0.924,-0.383L-0.383,-0.924ZM0.211,-0.508L0.508,-0.211L0.508,0.211L0.211,0.508L-0.211,0.508L-0.508,0.211L-0.508,-0.211L-0.211,-0.508ZM0.077,-0.185L0.185,-0.077L0.185,0.077L0.077,0.185L-0.077,0.185L-0.185,0.077L-0.185,-0.077L-0.077,-0.185Z","M-6.5,0L6.5,0M0,-1.05L1,-0.32L0.62,0.85L-0.62,0.85L-1,-0.32ZM0,-0.578L0.55,-0.176L0.341,0.468L-0.341,0.468L-0.55,-0.176ZM0,-0.21L0.2,-0.064L0.124,0.17L-0.124,0.17L-0.2,-0.064Z","M-6.5,0L6.5,0M-0.85,-0.85L0.85,-0.85L0.85,0.85L-0.85,0.85ZM-0.47,-0.47L0.47,-0.47L0.47,0.47L-0.47,0.47ZM-0.12,-0.12L0.12,-0.12L0.12,0.12L-0.12,0.12Z","M-6.5,0L6.5,0M1,0A1,1 0 1,1 -1,0A1,1 0 1,1 1,0ZM0.55,0A0.55,0.55 0 1,1 -0.55,0A0.55,0.55 0 1,1 0.55,0ZM0.2,0A0.2,0.2 0 1,1 -0.2,0A0.2,0.2 0 1,1 0.2,0Z"]},
     "legend":{"orient":"none","legendX":433.5,"legendY":21,"title":null,"symbolSize":64,"symbolStrokeWidth":2,"symbolOpacity":0.7,"labelFont":"Liberation Serif","labelFontSize":23,"labelColor":"black","labelOffset":31.5,"rowPadding":3.2,"padding":0,"labelExpr":"'𝐿 = ' + datum.label"}}}}
 ],
 "resolve":{"scale":{"color":"independent","shape":"independent"}}
}
]
}
